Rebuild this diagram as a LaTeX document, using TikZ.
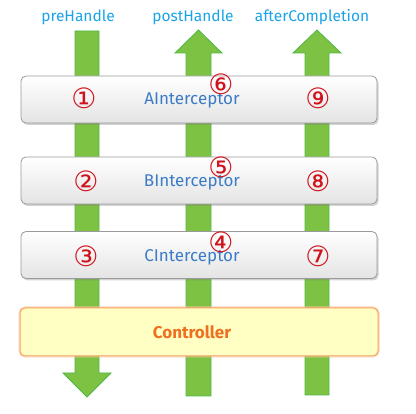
\documentclass[tikz,border=0pt]{standalone}
\usepackage{fontspec}
\setmainfont{Fira Sans}
\newfontfamily\circfont{DejaVu Sans}
\usetikzlibrary{shadows}
\definecolor{arrowgreen}{HTML}{7DC242}
\definecolor{arrowedge}{HTML}{4DB848}
\definecolor{boxgray}{HTML}{E4E4E4}
\definecolor{boxedge}{HTML}{9A9A9A}
\definecolor{labelblue}{HTML}{1AA3E8}
\definecolor{namblue}{HTML}{3C7CC6}
\definecolor{stepred}{HTML}{D0121B}
\definecolor{ctrlfill}{HTML}{FFFFC4}
\definecolor{ctrledge}{HTML}{F4A060}
\definecolor{ctrltext}{HTML}{EE7020}
\tikzset{
  flow/.style={draw=arrowedge, fill=arrowgreen, line width=0.8pt},
  ibox/.style={draw=boxedge, line width=0.8pt, rounded corners=5pt, top color=white, bottom color=boxgray,
    minimum width=356pt, minimum height=47pt, drop shadow={shadow xshift=1.5pt, shadow yshift=-2pt, opacity=0.35}},
  cbox/.style={draw=ctrledge, line width=1pt, rounded corners=5pt, fill=ctrlfill,
    minimum width=358pt, minimum height=48pt,
    preaction={draw=ctrledge!60, line width=3.5pt, opacity=0.5}},
  phase/.style={text=labelblue, font=\fontsize{15.5}{15.5}\selectfont},
  iname/.style={text=namblue, font=\fontsize{17}{17}\selectfont},
  stepno/.style={text=stepred, font=\circfont\fontsize{28}{28}\selectfont, inner sep=0pt}
}
\begin{document}
\begin{tikzpicture}[x=1pt,y=-1pt]
  \useasboundingbox (0,0) rectangle (416,414);

  %% arrows
  \draw[flow] (75,31) -- (99,31) -- (99,373) -- (111,373) -- (87,397) -- (63,373) -- (75,373) -- cycle;
  \draw[flow] (186,396) -- (211,396) -- (211,53) -- (222,53) -- (198.5,30) -- (175,53) -- (186,53) -- cycle;
  \draw[flow] (305,395) -- (329,395) -- (329,53) -- (341,53) -- (317,30) -- (293,53) -- (305,53) -- cycle;

  %% phase labels
  \node[phase] (pre) at (78,17) {preHandle};
  \node[phase] (post) at (193,17) {postHandle};
  \node[phase] (after) at (312,17) {afterCompletion};

  %% interceptors
  \node[ibox] (boxA) at (199,99.5) {};
  \node[ibox] (boxB) at (199,180.5) {};
  \node[ibox] (boxC) at (199,255) {};
  \node[cbox] (ctrl) at (199,332) {};

  \node[iname] (nameA) at (192,100) {AInterceptor};
  \node[iname] (nameB) at (192,182) {BInterceptor};
  \node[iname] (nameC) at (192,257) {CInterceptor};
  \node[iname, text=ctrltext, font=\bfseries\fontsize{17}{17}\selectfont] (nameCtrl) at (192,332) {Controller};

  %% step numbers
  \node[stepno] (s1) at (84,98) {①};
  \node[stepno] (s2) at (86,181) {②};
  \node[stepno] (s3) at (86,256) {③};
  \node[stepno] (s4) at (221,242) {④};
  \node[stepno] (s5) at (221,167) {⑤};
  \node[stepno] (s6) at (221,84) {⑥};
  \node[stepno] (s7) at (318,256) {⑦};
  \node[stepno] (s8) at (318,181) {⑧};
  \node[stepno] (s9) at (318,98) {⑨};
\end{tikzpicture}
\end{document}
